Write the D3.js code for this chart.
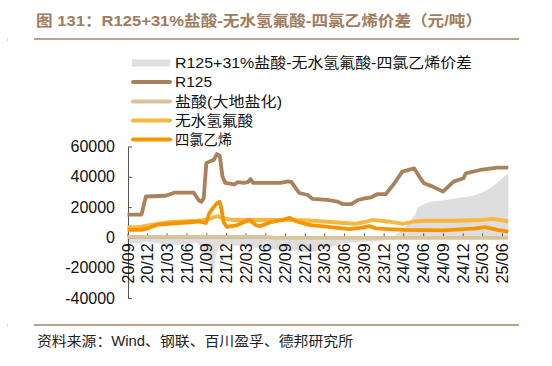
<!DOCTYPE html>
<html>
<head>
<meta charset="utf-8">
<script src="https://cdn.jsdelivr.net/npm/d3@7"></script>
<style>
  body { margin: 0; background: #fff; }
  text { font-family: "Liberation Sans", Arial, "Noto Sans CJK SC", sans-serif; }
</style>
</head>
<body>
<div id="chart"></div>
<script>
// data: [date, value] break points per series
var xTickLabels = ["20/09","20/12","21/03","21/06","21/09","21/12","22/03","22/06","22/09","22/12",
                   "23/03","23/06","23/09","23/12","24/03","24/06","24/09","24/12","25/03","25/06"];
var yTicks = [-40000, -20000, 0, 20000, 40000, 60000];

var spreadData = [
  ["2020-09-01",-4000],["2020-11-01",-3500],["2020-11-25",-2500],["2021-01-20",-4000],["2021-04-20",-5000],
  ["2021-07-20",-3500],["2021-08-10",-7000],["2021-08-30",-10000],["2021-09-15",-14000],["2021-09-25",-24000],
  ["2021-10-05",-25000],["2021-10-15",-12000],["2021-10-30",-6000],["2021-12-10",-5000],["2022-03-10",-6000],
  ["2022-07-10",-8000],["2022-10-10",-9000],["2022-12-20",-10000],["2023-03-20",-7000],["2023-05-20",-4000],
  ["2023-08-01",-3000],["2023-11-01",-2500],["2023-12-20",-1500],["2024-01-10",0],["2024-02-10",3000],
  ["2024-03-05",6000],["2024-03-30",10500],["2024-04-25",15000],["2024-05-10",20000],["2024-06-05",22000],
  ["2024-07-05",23500],["2024-09-05",24500],["2024-10-20",25500],["2024-12-05",26500],["2025-01-20",27500],
  ["2025-03-05",30000],["2025-04-05",32500],["2025-05-10",36000],["2025-06-10",40000],["2025-06-30",42000]
];
var r125Data = [
  ["2020-09-01",15000],["2020-11-05",15000],["2020-11-25",27000],["2021-02-25",27500],["2021-04-05",29500],
  ["2021-07-05",29500],["2021-07-28",24500],["2021-08-10",23500],["2021-08-20",26000],["2021-09-01",49000],
  ["2021-09-22",50500],["2021-10-05",51000],["2021-10-20",55000],["2021-11-02",54000],["2021-11-15",40000],
  ["2021-11-28",36000],["2021-12-20",35500],["2022-01-08",35000],["2022-01-25",36500],["2022-02-22",36000],
  ["2022-03-12",36500],["2022-03-25",38500],["2022-04-05",36000],["2022-06-05",36000],["2022-08-10",36000],
  ["2022-09-15",37000],["2022-10-01",36500],["2022-10-15",33500],["2022-11-05",29300],["2022-12-15",28000],
  ["2023-01-05",25400],["2023-03-15",24700],["2023-05-01",23600],["2023-05-25",22000],["2023-07-05",22000],
  ["2023-08-05",24700],["2023-09-05",25800],["2023-10-05",26500],["2023-11-01",28500],["2023-12-10",28500],
  ["2024-01-20",35700],["2024-02-25",43400],["2024-04-20",45600],["2024-05-15",40000],["2024-06-05",35700],
  ["2024-07-15",33500],["2024-09-01",30200],["2024-09-25",33500],["2024-10-20",36800],["2024-12-05",39000],
  ["2024-12-15",42300],["2025-02-20",44500],["2025-05-10",46000],["2025-06-30",46000]
];
var hclData = [
  ["2020-09-01",400],["2022-06-01",400],["2022-07-15",-300],["2025-06-30",-300]
];
var hfData = [
  ["2020-09-01",6800],["2020-11-01",7000],["2020-12-05",8000],["2021-03-10",10000],["2021-07-20",11000],
  ["2021-08-30",11500],["2021-09-30",13000],["2021-10-25",14000],["2021-11-20",12500],["2021-12-30",11500],
  ["2022-05-10",11500],["2022-09-30",11500],["2023-01-10",11000],["2023-04-10",10000],["2023-07-20",9000],
  ["2023-09-01",10000],["2023-10-10",11500],["2023-12-20",10500],["2024-03-01",9000],["2024-04-20",10500],
  ["2024-06-10",11000],["2024-10-25",11000],["2025-03-01",11500],["2025-04-20",12300],["2025-06-10",11000],
  ["2025-06-30",10500]
];
var pceData = [
  ["2020-09-01",5000],["2020-11-05",5000],["2020-12-05",6000],["2021-01-20",8500],["2021-03-10",9000],
  ["2021-06-15",10000],["2021-07-28",10500],["2021-08-30",9500],["2021-09-15",16000],["2021-09-30",19000],
  ["2021-10-20",22500],["2021-11-01",23500],["2021-11-10",19000],["2021-11-20",10000],["2021-12-05",7000],
  ["2022-01-20",8000],["2022-03-01",10500],["2022-03-20",11500],["2022-04-20",8000],["2022-05-10",7500],
  ["2022-06-25",10000],["2022-08-20",11500],["2022-09-20",13000],["2022-10-25",10500],["2022-12-01",9000],
  ["2023-01-05",8000],["2023-02-15",7500],["2023-04-20",6500],["2023-06-25",5500],["2023-08-25",6500],
  ["2023-09-25",7500],["2023-10-25",6000],["2023-12-25",5500],["2024-03-05",5000],["2024-06-05",4800],
  ["2024-09-05",4600],["2024-12-05",5400],["2025-01-20",5800],["2025-03-15",6800],["2025-05-10",5000],
  ["2025-06-30",3800]
];

var width = 552, height = 366;
var parseDate = d3.timeParse("%Y-%m-%d");
var parseTick = d3.timeParse("%y/%m");

var svg = d3.select("#chart").append("svg")
  .attr("width", width)
  .attr("height", height);

// title + rules
svg.append("text")
  .attr("x", 36).attr("y", 26)
  .attr("fill", "#A07C5C")
  .attr("font-weight", "bold")
  .style("font-size", "15px")
  .attr("textLength", 446).attr("lengthAdjust", "spacingAndGlyphs")
  .text("图 131：R125+31%盐酸-无水氢氟酸-四氯乙烯价差（元/吨）");
svg.append("line").attr("x1", 34).attr("x2", 519).attr("y1", 39).attr("y2", 39)
  .attr("stroke", "#A6835F").attr("stroke-width", 1.5);
svg.append("line").attr("x1", 34).attr("x2", 519).attr("y1", 325).attr("y2", 325)
  .attr("stroke", "#A6835F").attr("stroke-width", 1.5);
svg.append("rect").attr("x", 7).attr("y", 38).attr("width", 1).attr("height", 3).attr("fill", "#ddd");
svg.append("rect").attr("x", 7).attr("y", 324).attr("width", 1).attr("height", 3).attr("fill", "#ddd");

svg.append("text")
  .attr("x", 37).attr("y", 346)
  .attr("fill", "#222")
  .style("font-size", "14px")
  .attr("textLength", 316).attr("lengthAdjust", "spacingAndGlyphs")
  .text("资料来源：Wind、钢联、百川盈孚、德邦研究所");

// scales
var x = d3.scaleTime()
  .domain([parseTick("20/09"), parseTick("25/06")])
  .range([127.5, 502]);
var y = d3.scaleLinear()
  .domain([-40000, 60000])
  .range([298, 146.5]);

function pts(arr) { return arr.map(function(d) { return {date: parseDate(d[0]), v: d[1]}; }); }

// spread area
var area = d3.area()
  .x(function(d) { return x(d.date); })
  .y0(y(0))
  .y1(function(d) { return y(d.v); });
svg.append("path")
  .datum(pts(spreadData))
  .attr("d", area)
  .attr("fill", "#DEDEDE");

// y axis (ticks pointing inward)
var yAxis = svg.append("g")
  .attr("transform", "translate(128,0)")
  .call(d3.axisLeft(y).tickValues(yTicks).tickSizeInner(-4).tickSizeOuter(0).tickPadding(13)
    .tickFormat(function(d) { return String(d); }));
yAxis.select(".domain").attr("stroke", "#555");
yAxis.selectAll(".tick line").attr("stroke", "#555");
yAxis.selectAll("text").style("font-size", "16px").attr("fill", "#111").attr("font-family", "Liberation Sans, Arial, sans-serif");

// x axis at zero
var xAxis = svg.append("g")
  .attr("transform", "translate(0," + y(0) + ")")
  .call(d3.axisBottom(x).tickValues(xTickLabels.map(parseTick)).tickSizeInner(-4).tickSizeOuter(0)
    .tickFormat(d3.timeFormat("%y/%m")));
xAxis.select(".domain").attr("stroke", "#555");
xAxis.selectAll(".tick line").attr("stroke", "#555");
xAxis.selectAll("text")
  .attr("y", 0).attr("x", 0).attr("dy", "0.35em")
  .attr("transform", "translate(0,6) rotate(-90)")
  .attr("text-anchor", "end")
  .style("font-size", "16px").attr("fill", "#111").attr("font-family", "Liberation Sans, Arial, sans-serif");

// lines
var line = d3.line()
  .x(function(d) { return x(d.date); })
  .y(function(d) { return y(d.v); });

var series = [
  {name: "R125", data: r125Data, color: "#A9825B"},
  {name: "盐酸(大地盐化)", data: hclData, color: "#D9C59D"},
  {name: "无水氢氟酸", data: hfData, color: "#F6B73C"},
  {name: "四氯乙烯", data: pceData, color: "#F49500"}
];
// draw HCl first so it sits under the rest, R125 on top
[1, 2, 3, 0].forEach(function(i) {
  svg.append("path")
    .datum(pts(series[i].data))
    .attr("d", line)
    .attr("fill", "none")
    .attr("stroke", series[i].color)
    .attr("stroke-width", 3.8)
    .attr("stroke-linejoin", "round");
});

// legend
var legendNames = ["R125+31%盐酸-无水氢氟酸-四氯乙烯价差", "R125", "盐酸(大地盐化)", "无水氢氟酸", "四氯乙烯"];
var legendWidths = [297, 37, 107, 78, 57];
var legendColors = ["#DEDEDE", "#A9825B", "#D9C59D", "#F6B73C", "#F49500"];
var legendY = [63, 82, 101.5, 120.5, 139.5];

var lg = svg.append("g");
legendNames.forEach(function(name, i) {
  if (i === 0) {
    lg.append("rect").attr("x", 132).attr("y", legendY[i] - 3.5).attr("width", 38).attr("height", 7)
      .attr("fill", legendColors[i]);
  } else {
    lg.append("line").attr("x1", 133).attr("x2", 170).attr("y1", legendY[i]).attr("y2", legendY[i])
      .attr("stroke", legendColors[i]).attr("stroke-width", 4).attr("stroke-linecap", "round");
  }
  lg.append("text")
    .attr("x", 175).attr("y", legendY[i]).attr("dy", "0.36em")
    .style("font-size", "14.5px").attr("fill", "#111")
    .attr("textLength", legendWidths[i]).attr("lengthAdjust", "spacingAndGlyphs")
    .text(name);
});
</script>
</body>
</html>
